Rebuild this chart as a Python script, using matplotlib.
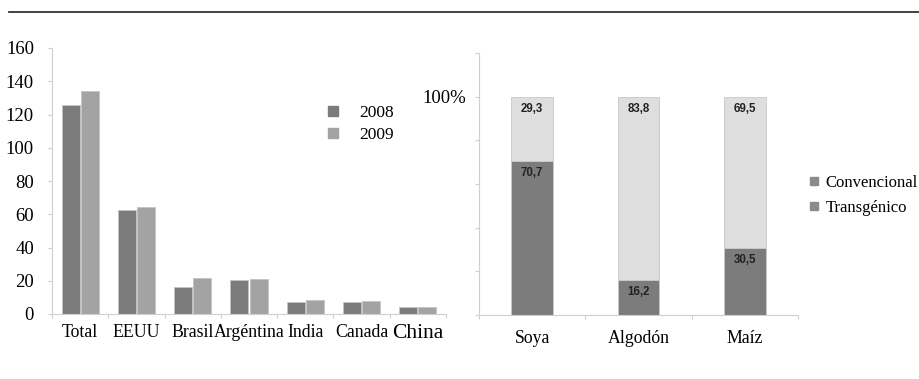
import matplotlib.pyplot as plt
import numpy as np
from matplotlib.lines import Line2D

plt.rcParams['font.family'] = ['Liberation Serif', 'DejaVu Serif']

# left chart: area (millones de ha)
paises = ["Total", "EEUU", "Brasil", "Argéntina", "India", "Canada", "China"]
v2008 = [125.5, 62.5, 16.0, 20.6, 7.4, 7.4, 4.0]
v2009 = [134.3, 64.4, 21.4, 21.0, 8.2, 8.0, 4.0]
yticks_izq = [0, 20, 40, 60, 80, 100, 120, 140, 160]

# right chart: share (%)
cultivos = ["Soya", "Algodón", "Maíz"]
transgenico = [70.7, 16.2, 30.5]
convencional = [29.3, 83.8, 69.5]
etiq_trans = ["70,7", "16,2", "30,5"]
etiq_conv = ["29,3", "83,8", "69,5"]

fig = plt.figure(figsize=(9.2, 3.79), dpi=100)
fig.add_artist(Line2D([9/920, 1.0], [1-12/379, 1-12/379], color="#333333", lw=1.3))

gris_eje = "#cfcfcf"

# ---- left ----
ax1 = fig.add_axes([52/920, 1-314/379, 394/920, 266/379])
x = np.arange(len(paises))
ax1.bar(x - 0.17, v2008, 0.32, color="#7b7b7b", edgecolor="#c4c4c4", lw=0.6, label="2008")
ax1.bar(x + 0.17, v2009, 0.32, color="#a3a3a3", edgecolor="#c4c4c4", lw=0.6, label="2009")
ax1.set_xlim(-0.5, len(paises) - 0.5)
ax1.set_ylim(0, 160)
ax1.set_yticks(yticks_izq)
ax1.set_yticklabels([str(v) for v in yticks_izq], fontsize=13.5)
ax1.set_xticks(np.arange(len(paises) + 1) - 0.5)
ax1.set_xticklabels([])
ax1.set_xticks(x, minor=True)
ax1.set_xticklabels(paises, minor=True, fontsize=12.8)
ax1.get_xticklabels(minor=True)[-1].set_fontsize(15.5)
ax1.tick_params(axis="x", which="minor", length=0, pad=7)
ax1.tick_params(axis="x", which="major", length=3, color=gris_eje)
ax1.tick_params(axis="y", length=3, color=gris_eje, pad=10)
for s in ["top", "right"]:
    ax1.spines[s].set_visible(False)
for s in ["left", "bottom"]:
    ax1.spines[s].set_color(gris_eje)
h1 = [Line2D([], [], marker="s", ls="", color=c, markersize=7) for c in ["#7b7b7b", "#a3a3a3"]]
ax1.legend(h1, ["2008", "2009"], loc="upper left", bbox_to_anchor=(316/920, 1-105/379),
           bbox_transform=fig.transFigure, frameon=False, fontsize=12.5, handletextpad=0.5,
           labelspacing=0.35, borderaxespad=0, borderpad=0)

# ---- right ----
ax2 = fig.add_axes([479/920, 1-315/379, 319/920, 262/379])
x2 = np.arange(len(cultivos))
ax2.bar(x2, transgenico, 0.39, color="#7c7c7c", edgecolor="#c8c8c8", lw=0.6)
ax2.bar(x2, convencional, 0.39, bottom=transgenico, color="#dedede", edgecolor="#c8c8c8", lw=0.6)
for i in range(len(cultivos)):
    ax2.annotate(etiq_trans[i], (x2[i], transgenico[i]), xytext=(0, -12), textcoords="offset pixels",
                 ha="center", va="center", fontsize=8.3, fontweight="bold", family="Liberation Sans",
                 color="#222222")
    ax2.annotate(etiq_conv[i], (x2[i], 100), xytext=(0, -12), textcoords="offset pixels",
                 ha="center", va="center", fontsize=8.3, fontweight="bold", family="Liberation Sans",
                 color="#222222")
ax2.set_xlim(-0.5, len(cultivos) - 0.5)
ax2.set_ylim(0, 120)
ax2.set_yticks([0, 20, 40, 60, 80, 100, 120])
ax2.set_yticklabels(["", "", "", "", "", "100%", ""], fontsize=13.5)
ax2.tick_params(axis="y", length=3, color=gris_eje, pad=6)
ax2.set_xticks(np.arange(len(cultivos) + 1) - 0.5)
ax2.set_xticklabels([])
ax2.set_xticks(x2, minor=True)
ax2.set_xticklabels(cultivos, minor=True, fontsize=12.8)
ax2.tick_params(axis="x", which="minor", length=0, pad=11)
ax2.tick_params(axis="x", which="major", length=3, color=gris_eje)
for s in ["top", "right"]:
    ax2.spines[s].set_visible(False)
for s in ["left", "bottom"]:
    ax2.spines[s].set_color(gris_eje)
h2 = [Line2D([], [], marker="s", ls="", color="#8a8a8a", markersize=6) for _ in range(2)]
ax2.legend(h2, ["Convencional", "Transgénico"], loc="upper left", bbox_to_anchor=(804/920, 1-175/379),
           bbox_transform=fig.transFigure, frameon=False, fontsize=12, handletextpad=0.1,
           handlelength=1.2, labelspacing=0.55, borderaxespad=0, borderpad=0)

fig.savefig("out.png", dpi=100)
